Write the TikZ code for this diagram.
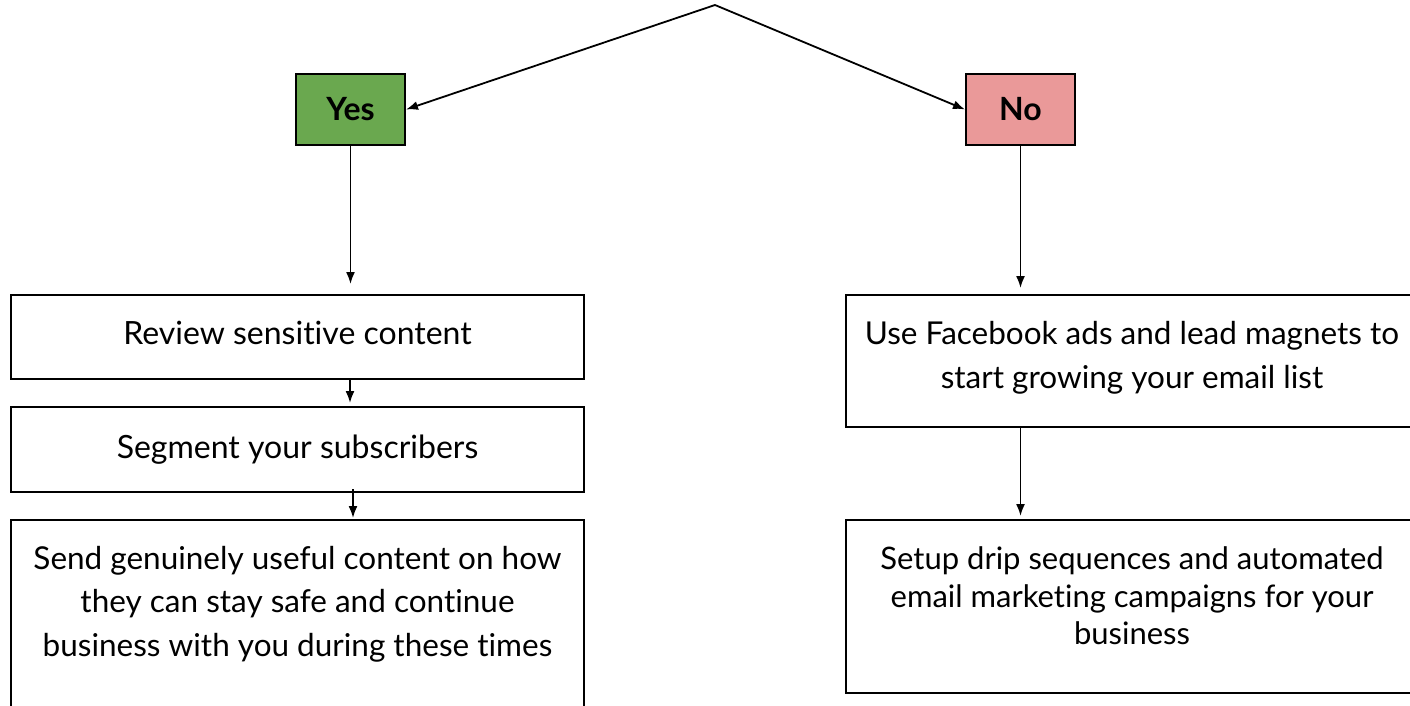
\documentclass[tikz,border=0pt]{standalone}
\usepackage{fontspec}
\setmainfont{Lato}[Ligatures=NoCommon]
\usetikzlibrary{arrows.meta,calc}
\definecolor{yesgreen}{HTML}{6AA84F}
\definecolor{nopink}{HTML}{EA9999}
\tikzset{
  box/.style={draw=black, line width=2pt, fill=white, inner sep=0pt, align=center,
    font=\fontsize{32}{43.5}\selectfont},
  choice/.style={draw=black, line width=2pt, inner sep=0pt, minimum width=109pt,
    minimum height=71pt, font=\fontsize{32}{38}\selectfont\bfseries},
  txt/.style={inner sep=0pt, align=center},
  arr/.style={line width=1.8pt, -{Latex[length=12pt,width=9pt]}}
}
\begin{document}
\begin{tikzpicture}[x=1pt,y=-1pt]
\useasboundingbox (0,0) rectangle (1410,705);
\clip (0,0) rectangle (1410,705);
\coordinate (top) at (715,5);
\node[choice, fill=yesgreen] (yes) at (350.5,109.5) {\raisebox{-8pt}{Yes}};
\node[choice, fill=nopink] (no) at (1020.5,109.5) {\raisebox{-8pt}{No}};
\node[box, minimum width=573pt, minimum height=84pt] (r1) at (297.5,337) {\raisebox{8pt}{Review sensitive content}};
\node[box, minimum width=573pt, minimum height=85pt] (r2) at (297.5,449.5) {\raisebox{5pt}{Segment your subscribers}};
\node[box, minimum width=573pt, minimum height=200pt] (s3) at (297.5,620) {};
\node[txt, font=\fontsize{31.5}{43.5}\selectfont] (s3t) at (297.5,604) {Send genuinely useful content on how\\they can stay safe and continue\\business with you during these times};
\node[box, minimum width=572pt, minimum height=132pt] (f1) at (1132,361) {};
\node[txt, font=\fontsize{31.5}{44}\selectfont] (f1t) at (1132,358) {Use Facebook ads and lead magnets to\\start growing your email list};
\node[box, minimum width=572pt, minimum height=173pt] (f2) at (1132,606.5) {};
\node[txt, font=\fontsize{31}{37.5}\selectfont] (f2t) at (1132,596) {Setup drip sequences and automated\\email marketing campaigns for your\\business};
\draw[arr] (top) -- (yes.east);
\draw[arr] (top) -- (no.west);
\draw[arr, shorten >=10pt] (yes.south) -- (yes.south |- r1.north);
\draw[arr, shorten >=3pt] ($(r1.south)+(52.5,0)$) -- ($(r2.north)+(52.5,0)$);
\draw[arr, shorten >=1pt] ($(r2.south)+(55.5,-4)$) -- ($(s3.north)+(55.5,0)$);
\draw[arr, shorten >=6pt] (no.south) -- (no.south |- f1.north);
\draw[arr, shorten >=3pt] (f1.south -| no.south) -- (f2.north -| no.south);
\end{tikzpicture}
\end{document}
